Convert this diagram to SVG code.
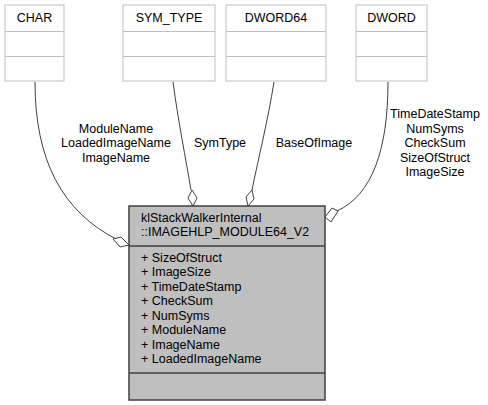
<svg xmlns="http://www.w3.org/2000/svg" width="488" height="405" viewBox="0 0 488 405">
<style>
text{font-family:"Liberation Sans",Arial,sans-serif;font-size:12.5px;fill:#000}
.c{text-anchor:middle}
.tb{fill:#fff;stroke:#bfbfbf;stroke-width:1}
.mb{fill:#bfbfbf;stroke:#404040;stroke-width:1.5}
.ln{fill:none;stroke:#404040;stroke-width:1}
.dm{fill:#fff;stroke:#404040;stroke-width:1}
</style>
<rect width="488" height="405" fill="#fff"/>
<g id="edges">
<path class="ln" d="M35,82 C35,160 62,212 118,240"/>
<path class="dm" d="M129,245 L121,237 L113,239 L120,247 Z"/>
<path class="ln" d="M173,82 C178,120 186,160 191,190"/>
<path class="dm" d="M193,206 L197,198 L192,190 L188,198 Z"/>
<path class="ln" d="M274,82 C268,120 258,160 252,190"/>
<path class="dm" d="M248,206 L254,199 L252,190 L246,197 Z"/>
<path class="ln" d="M388,82 C388,150 372,195 337,211"/>
<path class="dm" d="M325,217 L331,222 L338,211 L332,208 Z"/>
</g>
<g id="label_char">
<text class="c" x="116" y="132.5">ModuleName</text>
<text class="c" x="116" y="147">LoadedImageName</text>
<text class="c" x="116" y="161.5">ImageName</text>
</g>
<g id="label_symtype"><text class="c" x="220" y="147">SymType</text></g>
<g id="label_base"><text class="c" x="314" y="147">BaseOfImage</text></g>
<g id="label_dword">
<text class="c" x="435" y="118">TimeDateStamp</text>
<text class="c" x="435" y="132.5">NumSyms</text>
<text class="c" x="435" y="147">CheckSum</text>
<text class="c" x="435" y="161.5">SizeOfStruct</text>
<text class="c" x="435" y="176">ImageSize</text>
</g>
<g id="node_char">
<rect class="tb" x="5" y="5" width="59" height="76"/>
<line class="tb" x1="5" y1="31.5" x2="64" y2="31.5"/>
<line class="tb" x1="5" y1="56.5" x2="64" y2="56.5"/>
<text class="c" x="34.5" y="22">CHAR</text>
</g>
<g id="node_symtype">
<rect class="tb" x="123" y="5" width="92" height="76"/>
<line class="tb" x1="123" y1="31.5" x2="215" y2="31.5"/>
<line class="tb" x1="123" y1="56.5" x2="215" y2="56.5"/>
<text class="c" x="169" y="22">SYM_TYPE</text>
</g>
<g id="node_dword64">
<rect class="tb" x="226" y="5" width="100" height="76"/>
<line class="tb" x1="226" y1="31.5" x2="326" y2="31.5"/>
<line class="tb" x1="226" y1="56.5" x2="326" y2="56.5"/>
<text class="c" x="276" y="22">DWORD64</text>
</g>
<g id="node_dword">
<rect class="tb" x="356" y="5" width="71" height="76"/>
<line class="tb" x1="356" y1="31.5" x2="427" y2="31.5"/>
<line class="tb" x1="356" y1="56.5" x2="427" y2="56.5"/>
<text class="c" x="391.5" y="22">DWORD</text>
</g>
<g id="node_main">
<rect class="mb" x="129" y="206" width="196" height="194"/>
<line class="mb" x1="129" y1="246" x2="325" y2="246"/>
<line class="mb" x1="129" y1="373" x2="325" y2="373"/>
<text x="141" y="221.5">klStackWalkerInternal</text>
<text x="141" y="236">::IMAGEHLP_MODULE64_V2</text>
<text x="141" y="261.5">+ SizeOfStruct</text>
<text x="141" y="276">+ ImageSize</text>
<text x="141" y="290.5">+ TimeDateStamp</text>
<text x="141" y="305">+ CheckSum</text>
<text x="141" y="319.5">+ NumSyms</text>
<text x="141" y="334">+ ModuleName</text>
<text x="141" y="348.5">+ ImageName</text>
<text x="141" y="363">+ LoadedImageName</text>
</g>
</svg>
